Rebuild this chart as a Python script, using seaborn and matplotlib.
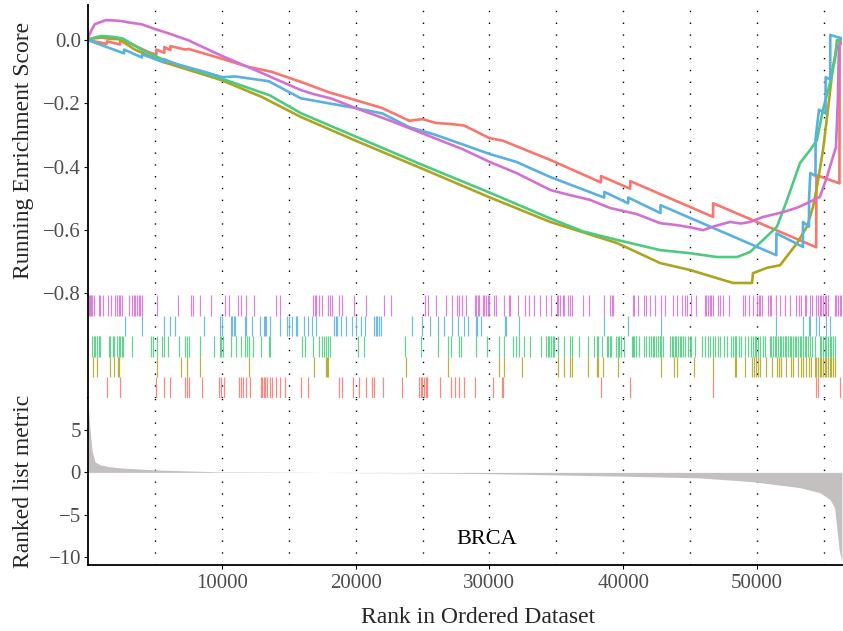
import numpy as np
import pandas as pd
import matplotlib
matplotlib.use("Agg")
import matplotlib.pyplot as plt
import seaborn as sns

# --- DATA ---
SET_NAMES = ["Set 1", "Set 2", "Set 3", "Set 4", "Set 5"]
SET_COLORS = ["#F8766D", "#ADA41F", "#4EC982", "#5AB0E0", "#D371D3"]

# running enrichment score breakpoints (rank, score)
es_rank_1 = [0, 1400, 1420, 2400, 2415, 4480, 5100, 5110, 5700, 5710, 6150, 6160, 7270, 7520,
             9930, 12000, 13700, 15900, 18000, 20000, 22000, 24000, 25000, 26000, 27000, 28100,
             30000, 31000, 34550, 38330, 38340, 40520, 40530, 46710, 46720, 54420, 54440, 56160,
             56175, 56450]
es_score_1 = [0.0, -0.012, -0.004, -0.014, 0.004, -0.037, -0.046, -0.03, -0.04, -0.022, -0.032, -0.019,
              -0.03, -0.028, -0.058, -0.085, -0.1, -0.132, -0.165, -0.19, -0.215, -0.255, -0.25, -0.262,
              -0.265, -0.27, -0.31, -0.318, -0.379, -0.45, -0.43, -0.47, -0.446, -0.559, -0.516,
              -0.655, -0.427, -0.453, 0.0, 0.0]

es_rank_2 = [0, 375, 1000, 1620, 2290, 3500, 5670, 9930, 13000, 15900, 20000, 25000, 30000,
             34550, 39550, 42760, 45000, 46720, 48210, 49630, 49700, 50750, 51720, 52990, 53730,
             54180, 54480, 54930, 55300, 55670, 55970, 56450]
es_score_2 = [0.0, 0.005, 0.008, 0.004, 0.003, -0.03, -0.07, -0.126, -0.18, -0.243, -0.318, -0.407,
              -0.497, -0.575, -0.642, -0.705, -0.727, -0.749, -0.768, -0.768, -0.737, -0.72, -0.712,
              -0.642, -0.59, -0.528, -0.464, -0.348, -0.22, -0.085, -0.022, 0.0]

es_rank_3 = [0, 300, 1000, 1900, 2600, 4000, 5670, 9930, 13600, 15900, 20000, 25000, 30000,
             34550, 37000, 39550, 42760, 45000, 47020, 48510, 49480, 50450, 51490, 52240, 53210,
             53960, 54480, 54930, 55450, 55820, 55970, 56450]
es_score_3 = [0.0, 0.006, 0.013, 0.01, 0.005, -0.03, -0.063, -0.121, -0.175, -0.231, -0.305, -0.395,
              -0.482, -0.564, -0.605, -0.632, -0.664, -0.674, -0.686, -0.686, -0.67, -0.632, -0.59,
              -0.506, -0.389, -0.348, -0.316, -0.22, -0.136, -0.063, 0.0, 0.0]

es_rank_4 = [0, 2690, 2700, 4030, 4040, 5650, 5660, 6520, 8690, 10000, 11000, 13500, 15900, 18000,
             20000, 22000, 24000, 26000, 28000, 30000, 32000, 34550, 38580, 38590, 40370, 40380,
             42780, 42790, 51440, 51450, 53430, 53435, 53880, 53890, 53985, 54370, 54380, 54630,
             55120, 55130, 55470, 55475, 56300, 56450]
es_score_4 = [0.0, -0.042, -0.03, -0.055, -0.045, -0.07, -0.06, -0.075, -0.1, -0.117, -0.115, -0.13,
              -0.184, -0.2, -0.215, -0.232, -0.275, -0.3, -0.33, -0.36, -0.385, -0.433, -0.498,
              -0.48, -0.516, -0.498, -0.547, -0.522, -0.68, -0.611, -0.654, -0.575, -0.59, -0.5,
              -0.42, -0.43, -0.31, -0.22, -0.232, -0.117, -0.125, 0.016, 0.006, 0.0]

es_rank_5 = [0, 50, 300, 500, 1000, 1340, 2000, 2500, 3000, 3500, 4000, 5000, 5970, 7460, 10000,
             12500, 15900, 16800, 18200, 20000, 22600, 25000, 28000, 30000, 32000, 34550, 36000,
             37500, 39030, 41000, 42760, 44000, 45000, 45970, 46700, 47985, 48800, 49480, 50400,
             51940, 53000, 53730, 54700, 55220, 55670, 55900, 56040, 56120, 56450]
es_score_5 = [0.0, 0.012, 0.035, 0.05, 0.058, 0.063, 0.062, 0.06, 0.056, 0.053, 0.05, 0.035, 0.022,
              0.0, -0.05, -0.095, -0.158, -0.17, -0.185, -0.215, -0.255, -0.295, -0.345, -0.385,
              -0.42, -0.474, -0.49, -0.505, -0.531, -0.55, -0.579, -0.585, -0.592, -0.601, -0.59,
              -0.575, -0.58, -0.575, -0.56, -0.544, -0.53, -0.516, -0.496, -0.433, -0.37, -0.338,
              -0.19, -0.02, 0.0]

# gene hit positions in the ranked list
hits_1 = [1420, 2415, 5100, 5700, 6150, 7270, 7395, 7520, 8515, 9760, 9935, 10185, 11255, 11430,
          11580, 11830, 12125, 12920, 13020, 13120, 13245, 13370, 13570, 13745, 14080, 14330, 14725,
          15900, 16445, 18760, 19005, 19830, 20250, 20750, 21245, 21370, 22040, 23435, 24730, 24855,
          24980, 25100, 25225, 25350, 26270, 27095, 27465, 27715, 28090, 28930, 30250, 30920, 31000,
          38340, 40525, 46720, 54430, 54555, 56175]
hits_2 = [375, 670, 1620, 1915, 2215, 2290, 5150, 6945, 7395, 8390, 12000, 16890, 17815, 17890,
          17960, 23735, 26920, 30750, 31070, 32415, 35150, 35600, 36050, 36150, 37340, 38040, 38090,
          38460, 39630, 42790, 43785, 44030, 45275, 46720, 48335, 48460, 49080, 49655, 49755, 49905,
          50080, 50205, 50650, 51145, 51495, 51645, 51820, 52140, 52565, 52690, 53060, 53310, 53435,
          53685, 53885, 54060, 54305, 54430, 54555, 54680, 54805, 54930, 55055, 55180, 55300, 55425,
          55550, 55675, 55800]
hits_3 = [300, 420, 545, 670, 795, 920, 1540, 1665, 1865, 1915, 2165, 2290, 2415, 2515, 2615, 3285,
          4705, 4830, 5150, 5525, 5700, 5950, 6770, 7270, 7395, 7520, 8390, 9385, 9835, 9935, 10085,
          10680, 11080, 11430, 11750, 11875, 12050, 12300, 12920, 13495, 13620, 16020, 16220, 16820,
          17265, 17515, 17640, 17815, 17960, 18060, 20200, 20625, 23685, 24850, 26170, 26920, 27095,
          27715, 27840, 29005, 29830, 30750, 31070, 31745, 31990, 32240, 32615, 33060, 33860, 34235,
          34355, 34480, 34605, 34730, 34855, 35150, 35600, 36050, 36150, 36720, 37340, 37790, 38040,
          38090, 38385, 38785, 38885, 38985, 39085, 39455, 39580, 39705, 39830, 40030, 40625, 40725,
          40825, 40925, 41200, 41575, 41675, 41950, 42070, 42195, 42290, 42440, 42615, 42740, 42860,
          42985, 43485, 43610, 43735, 43860, 43980, 44105, 44230, 44355, 44480, 44605, 44850, 44975,
          45100, 45350, 45920, 46095, 46345, 46470, 46720, 46845, 47090, 47215, 47515, 47765, 48085,
          48210, 48335, 48460, 48660, 48835, 49080, 49330, 49580, 49705, 49830, 49955, 50080, 50205,
          50450, 50575, 50950, 51075, 51200, 51320, 51445, 51570, 51695, 51820, 51945, 52070, 52190,
          52315, 52440, 52565, 52690, 52815, 52940, 53060, 53185, 53310, 53435, 53560, 53685, 53810,
          53935, 54130, 54305, 54680, 54805, 54930, 55055, 55180, 55300, 55425, 55550, 55675, 55800]
hits_4 = [2790, 4035, 5650, 6150, 6520, 8690, 9885, 10010, 10680, 10780, 10880, 11000, 11750, 11825,
          12250, 12820, 13120, 13220, 13320, 13570, 14330, 14900, 15025, 15275, 15525, 15650, 16145,
          16470, 16770, 17065, 18385, 18510, 18635, 18880, 19255, 19750, 20000, 20375, 20700, 21370,
          21495, 21620, 21745, 21870, 24230, 24980, 25525, 26170, 26595, 27170, 27665, 28090, 28385,
          29005, 29080, 29380, 31170, 31245, 32240, 38590, 40380, 42790, 51445, 53435, 53885, 53985,
          54380, 54630, 55130, 55475]
hits_5 = [50, 125, 225, 300, 420, 795, 920, 1120, 1470, 1720, 2040, 2165, 2290, 2415, 2540, 3035,
          3285, 3410, 3535, 3660, 3785, 3910, 4035, 5150, 6700, 7690, 7840, 8340, 9190, 10260, 10510,
          11180, 11430, 11830, 12375, 14080, 14330, 16820, 16970, 17070, 17265, 17515, 17960, 18060,
          18210, 18760, 18960, 19880, 20750, 22120, 22620, 25180, 25430, 25980, 26770, 27170, 27590,
          27720, 27970, 28260, 28930, 29030, 29130, 29230, 29505, 29580, 29755, 29880, 29980, 30375,
          30475, 31070, 31495, 31570, 32120, 32665, 32990, 33365, 33810, 34235, 34610, 35055, 35155,
          35305, 35480, 35605, 35900, 36050, 36150, 36970, 37470, 38590, 39035, 39135, 39235, 40700,
          40825, 41075, 41525, 41700, 42025, 42365, 42860, 43110, 43735, 44030, 44430, 44605, 44730,
          45030, 45425, 46095, 46220, 46345, 46470, 46595, 46720, 47090, 47215, 47465, 47910, 48955,
          49080, 49405, 49705, 50000, 50150, 50250, 50400, 50825, 50950, 51075, 51395, 51745, 52070,
          52440, 52940, 53140, 53310, 53560, 53685, 53935, 54130, 54430, 54555, 54680, 54800, 54930,
          55050, 55180, 55300, 55800, 55925, 56050, 56175, 56300]

# ranked list metric breakpoints
metric_rank = [0, 150, 300, 520, 900, 1500, 2400, 4900, 9850, 15000, 17500, 20000, 25000, 30000,
               35000, 40000, 45700, 49700, 53200, 54700, 55450, 55800, 55970, 56120, 56350]
metric_value = [8.2, 5.0, 2.6, 1.25, 0.9, 0.7, 0.53, 0.3, 0.06, 0.03, 0.0, -0.03, -0.06, -0.15,
                -0.3, -0.45, -0.65, -1.1, -1.8, -2.4, -3.2, -4.2, -6.6, -9.0, -10.6]

# --- BUILD TABLES ---
es_ranks = [es_rank_1, es_rank_2, es_rank_3, es_rank_4, es_rank_5]
es_scores = [es_score_1, es_score_2, es_score_3, es_score_4, es_score_5]
hits = [hits_1, hits_2, hits_3, hits_4, hits_5]

df_es = pd.concat([pd.DataFrame({"rank": r, "score": s, "set": n})
                   for r, s, n in zip(es_ranks, es_scores, SET_NAMES)], ignore_index=True)
df_metric = pd.DataFrame({"rank": metric_rank, "metric": metric_value})

# --- STYLE ---
sns.set_theme(style="white")
plt.rcParams["font.family"] = ["Liberation Serif", "DejaVu Serif"]
TICK_COLOR = "#4D4D4D"
XMAX = 56350
LABEL_SIZE = 17
TICK_SIZE = 15

fig = plt.figure(figsize=(8.43, 6.31), dpi=100)
ax1 = fig.add_axes([0.1044, 0.5325, 0.8944, 0.4596])
ax2 = fig.add_axes([0.1044, 0.3693, 0.8944, 0.1632])
ax3 = fig.add_axes([0.1044, 0.1046, 0.8944, 0.2647])

# --- running enrichment score ---
sns.lineplot(data=df_es, x="rank", y="score", hue="set", palette=SET_COLORS,
             sort=False, estimator=None, linewidth=1.9, legend=False, ax=ax1)
ax1.set_ylim(-0.806, 0.111)
ax1.set_yticks([0.0, -0.2, -0.4, -0.6, -0.8])
ax1.set_yticklabels(["0.0", "\u22120.2", "\u22120.4", "\u22120.6", "\u22120.8"])
ax1.set_ylabel("Running Enrichment Score", fontsize=LABEL_SIZE)
ax1.set_xlabel("")

# --- hit rug ---
for i, (h, c) in enumerate(zip(hits, SET_COLORS)):
    ax2.vlines(h, i, i + 1, colors=c, linewidth=0.9, alpha=0.85)
ax2.set_ylim(0, 5)
ax2.set_yticks([])

# --- ranked list metric ---
ax3.fill_between(df_metric["rank"], 0, df_metric["metric"], color="#C4C0C0", linewidth=0)
ax3.set_ylim(-10.95, 8.8)
ax3.set_yticks([5, 0, -5, -10])
ax3.set_yticklabels(["5", "0", "\u22125", "\u221210"])
ax3.set_ylabel("Ranked list metric", fontsize=LABEL_SIZE)
ax3.set_xlabel("Rank in Ordered Dataset", fontsize=LABEL_SIZE, labelpad=10)
ax3.xaxis.label.set_x(0.517)
ax3.set_xticks([10000, 20000, 30000, 40000, 50000])
ax3.text(29800, -7.9, "BRCA", fontsize=16, ha="center", va="center", color="black")

for ax in (ax1, ax2, ax3):
    ax.set_xlim(0, XMAX)
    for xv in range(5000, 56000, 5000):
        ax.axvline(xv, color="black", linewidth=1.0, linestyle=(0, (1, 7.5)), zorder=0)
    for side in ("top", "right", "bottom"):
        ax.spines[side].set_visible(False)
    ax.spines["left"].set_color("black")
    ax.spines["left"].set_linewidth(1.3)
    ax.tick_params(axis="y", labelsize=TICK_SIZE, length=3, width=0.8,
                   left=True, labelcolor=TICK_COLOR, color="black", pad=2)
    if ax is not ax3:
        ax.set_xticks([])

ax3.spines["bottom"].set_visible(True)
ax3.spines["bottom"].set_color("black")
ax3.spines["bottom"].set_linewidth(1.3)
ax3.tick_params(axis="x", labelsize=TICK_SIZE, labelcolor=TICK_COLOR, color="black",
                length=3, width=0.8, bottom=True)
ax1.yaxis.set_label_coords(-0.072, 0.5)
ax3.yaxis.set_label_coords(-0.072, 0.5)

fig.savefig("out.png", dpi=100)
